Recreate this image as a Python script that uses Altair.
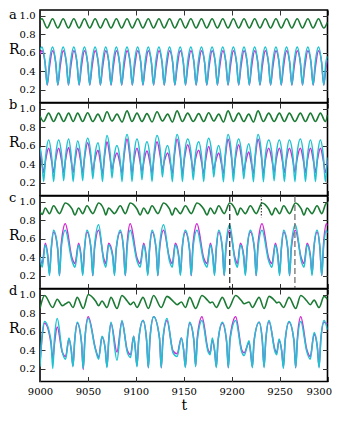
import altair as alt
import pandas as pd

FONT = "DejaVu Serif"
CYAN = "#1fc2d0"
MAGENTA = "#d12cd1"
GREEN = "#1b7a34"

x_ticks = [9000, 9050, 9100, 9150, 9200, 9250, 9300]
y_ticks = [0.2, 0.4, 0.6, 0.8, 1.0]
panel_letters = ["a", "b", "c", "d"]

# ================= panel a =================
# cyan / magenta: peak, knee, trough (cusp), knee ...
tA = [9000.0, 9002.0,
      9005.3, 9007.5, 9009.7, 9013.1,
      9016.4, 9018.6, 9020.8, 9024.2,
      9027.5, 9029.7, 9031.9, 9035.3,
      9038.6, 9040.8, 9043.0, 9046.4,
      9049.7, 9051.9, 9054.1, 9057.5,
      9060.8, 9063.0, 9065.2, 9068.6,
      9071.9, 9074.1, 9076.3, 9079.7,
      9083.0, 9085.2, 9087.4, 9090.8,
      9094.1, 9096.3, 9098.5, 9101.9,
      9105.2, 9107.4, 9109.6, 9113.0,
      9116.3, 9118.5, 9120.7, 9124.1,
      9127.4, 9129.6, 9131.8, 9135.2,
      9138.5, 9140.7, 9142.9, 9146.3,
      9149.6, 9151.8, 9154.0, 9157.4,
      9160.7, 9162.9, 9165.1, 9168.5,
      9171.8, 9174.0, 9176.2, 9179.6,
      9182.9, 9185.1, 9187.3, 9190.7,
      9194.0, 9196.2, 9198.4, 9201.8,
      9205.1, 9207.3, 9209.5, 9212.9,
      9216.2, 9218.4, 9220.6, 9224.0,
      9227.3, 9229.5, 9231.7, 9235.1,
      9238.4, 9240.6, 9242.8, 9246.2,
      9249.5, 9251.7, 9253.9, 9257.3,
      9260.6, 9262.8, 9265.0, 9268.4,
      9271.7, 9273.9, 9276.1, 9279.5,
      9282.8, 9285.0, 9287.2, 9290.6,
      9293.9, 9296.1, 9298.3, 9300.0]
cyanA = [0.63, 0.66,
         0.49, 0.25, 0.49, 0.66, 0.49, 0.25, 0.49, 0.66,
         0.49, 0.25, 0.49, 0.66, 0.49, 0.25, 0.49, 0.66,
         0.49, 0.25, 0.49, 0.66, 0.49, 0.25, 0.49, 0.66,
         0.49, 0.25, 0.49, 0.66, 0.49, 0.25, 0.49, 0.66,
         0.49, 0.25, 0.49, 0.66, 0.49, 0.25, 0.49, 0.66,
         0.49, 0.25, 0.49, 0.66, 0.49, 0.25, 0.49, 0.66,
         0.49, 0.25, 0.49, 0.66, 0.49, 0.25, 0.49, 0.66,
         0.49, 0.25, 0.49, 0.66, 0.49, 0.25, 0.49, 0.66,
         0.49, 0.25, 0.49, 0.66, 0.49, 0.25, 0.49, 0.66,
         0.49, 0.25, 0.49, 0.66, 0.49, 0.25, 0.49, 0.66,
         0.49, 0.25, 0.49, 0.66, 0.49, 0.25, 0.49, 0.66,
         0.49, 0.25, 0.49, 0.66, 0.49, 0.25, 0.49, 0.66,
         0.49, 0.25, 0.49, 0.66, 0.49, 0.25, 0.49, 0.66,
         0.49, 0.25, 0.49, 0.56]
magentaA = [0.58, 0.62,
            0.49, 0.25, 0.43, 0.62, 0.49, 0.25, 0.43, 0.62,
            0.49, 0.25, 0.43, 0.62, 0.49, 0.25, 0.43, 0.62,
            0.49, 0.25, 0.43, 0.62, 0.49, 0.25, 0.43, 0.62,
            0.49, 0.25, 0.43, 0.62, 0.49, 0.25, 0.43, 0.62,
            0.49, 0.25, 0.43, 0.62, 0.49, 0.25, 0.43, 0.62,
            0.49, 0.25, 0.43, 0.62, 0.49, 0.25, 0.43, 0.62,
            0.49, 0.25, 0.43, 0.62, 0.49, 0.25, 0.43, 0.62,
            0.49, 0.25, 0.43, 0.62, 0.49, 0.25, 0.43, 0.62,
            0.49, 0.25, 0.43, 0.62, 0.49, 0.25, 0.43, 0.62,
            0.49, 0.25, 0.43, 0.62, 0.49, 0.25, 0.43, 0.62,
            0.49, 0.25, 0.43, 0.62, 0.49, 0.25, 0.43, 0.62,
            0.49, 0.25, 0.43, 0.62, 0.49, 0.25, 0.43, 0.62,
            0.49, 0.25, 0.43, 0.62, 0.49, 0.25, 0.43, 0.62,
            0.49, 0.25, 0.43, 0.52]
# green: peak / trough times
tA_g = [9000.0, 9002.0, 9007.5, 9013.1, 9018.6, 9024.2, 9029.7, 9035.3, 9040.8, 9046.4,
        9051.9, 9057.5, 9063.0, 9068.6, 9074.1, 9079.7, 9085.2, 9090.8, 9096.3, 9101.9,
        9107.4, 9113.0, 9118.5, 9124.1, 9129.6, 9135.2, 9140.7, 9146.3, 9151.8, 9157.4,
        9162.9, 9168.5, 9174.0, 9179.6, 9185.1, 9190.7, 9196.2, 9201.8, 9207.3, 9212.9,
        9218.4, 9224.0, 9229.5, 9235.1, 9240.6, 9246.2, 9251.7, 9257.3, 9262.8, 9268.4,
        9273.9, 9279.5, 9285.0, 9290.6, 9296.1, 9300.0]
greenA = [0.95, 0.965, 0.865, 0.965, 0.865, 0.965, 0.865, 0.965, 0.865, 0.965,
          0.865, 0.965, 0.865, 0.965, 0.865, 0.965, 0.865, 0.965, 0.865, 0.965,
          0.865, 0.965, 0.865, 0.965, 0.865, 0.965, 0.865, 0.965, 0.865, 0.965,
          0.865, 0.965, 0.865, 0.965, 0.865, 0.965, 0.865, 0.965, 0.865, 0.965,
          0.865, 0.965, 0.865, 0.965, 0.865, 0.965, 0.865, 0.965, 0.865, 0.965,
          0.865, 0.965, 0.865, 0.965, 0.865, 0.93]

# ================= panel b =================
tB = [9000.0,
      9001.8, 9003.8, 9005.8, 9009.0,
      9012.2, 9014.2, 9016.2, 9019.4,
      9022.7, 9024.7, 9026.7, 9029.9,
      9032.6, 9034.6, 9036.6, 9039.3,
      9042.5, 9044.5, 9046.5, 9049.7,
      9053.1, 9055.1, 9057.1, 9060.5,
      9063.2, 9065.2, 9067.2, 9069.9,
      9073.1, 9075.1, 9077.1, 9080.3,
      9083.6, 9085.6, 9087.6, 9090.8,
      9094.0, 9096.0, 9098.0, 9101.2,
      9104.4, 9106.4, 9108.4, 9111.6,
      9114.9, 9116.9, 9118.9, 9122.1,
      9125.7, 9127.7, 9129.7, 9133.2,
      9136.1, 9138.1, 9140.1, 9143.0,
      9146.6, 9148.6, 9150.6, 9154.1,
      9157.9, 9159.9, 9161.9, 9165.6,
      9168.8, 9170.8, 9172.8, 9176.0,
      9179.3, 9181.3, 9183.3, 9186.5,
      9189.4, 9191.4, 9193.4, 9196.2,
      9199.8, 9201.8, 9203.8, 9207.3,
      9210.6, 9212.6, 9214.6, 9217.8,
      9220.7, 9222.7, 9224.7, 9227.5,
      9231.1, 9233.1, 9235.1, 9238.7,
      9242.3, 9244.3, 9246.3, 9249.8,
      9253.0, 9255.0, 9257.0, 9260.2,
      9264.0, 9266.0, 9268.0, 9271.7,
      9275.0, 9277.0, 9279.0, 9282.2,
      9285.4, 9287.4, 9289.4, 9292.6,
      9295.8, 9297.8, 9300.0]
cyanB = [0.58,
         0.47, 0.21, 0.47, 0.66,
         0.47, 0.21, 0.47, 0.66,
         0.48, 0.22, 0.48, 0.67,
         0.48, 0.21, 0.47, 0.65,
         0.47, 0.22, 0.49, 0.68,
         0.50, 0.24, 0.47, 0.63,
         0.46, 0.21, 0.50, 0.71,
         0.52, 0.25, 0.46, 0.60,
         0.44, 0.21, 0.51, 0.72,
         0.51, 0.21, 0.48, 0.67,
         0.49, 0.23, 0.47, 0.64,
         0.46, 0.21, 0.50, 0.71,
         0.53, 0.26, 0.46, 0.60,
         0.44, 0.21, 0.51, 0.72,
         0.51, 0.21, 0.48, 0.67,
         0.49, 0.23, 0.47, 0.64,
         0.46, 0.21, 0.49, 0.68,
         0.51, 0.26, 0.46, 0.60,
         0.44, 0.21, 0.51, 0.72,
         0.51, 0.21, 0.48, 0.67,
         0.49, 0.24, 0.46, 0.62,
         0.45, 0.21, 0.51, 0.72,
         0.51, 0.21, 0.48, 0.66,
         0.48, 0.22, 0.48, 0.66,
         0.47, 0.21, 0.47, 0.66,
         0.47, 0.21, 0.48, 0.67,
         0.48, 0.21, 0.47, 0.66,
         0.47, 0.21, 0.47, 0.66,
         0.47, 0.21, 0.47]
magentaB = [0.55,
            0.43, 0.31, 0.44, 0.57,
            0.43, 0.31, 0.44, 0.57,
            0.43, 0.31, 0.45, 0.58,
            0.43, 0.31, 0.44, 0.57,
            0.43, 0.31, 0.47, 0.63,
            0.46, 0.32, 0.44, 0.55,
            0.41, 0.30, 0.47, 0.64,
            0.47, 0.34, 0.43, 0.52,
            0.40, 0.30, 0.48, 0.67,
            0.47, 0.30, 0.44, 0.57,
            0.43, 0.32, 0.43, 0.54,
            0.41, 0.30, 0.47, 0.64,
            0.47, 0.34, 0.43, 0.52,
            0.40, 0.30, 0.48, 0.67,
            0.47, 0.30, 0.45, 0.61,
            0.45, 0.32, 0.44, 0.55,
            0.41, 0.30, 0.44, 0.59,
            0.45, 0.34, 0.43, 0.52,
            0.40, 0.30, 0.48, 0.67,
            0.47, 0.30, 0.45, 0.61,
            0.45, 0.32, 0.42, 0.53,
            0.40, 0.30, 0.48, 0.67,
            0.47, 0.30, 0.44, 0.57,
            0.43, 0.31, 0.44, 0.57,
            0.43, 0.31, 0.44, 0.57,
            0.43, 0.31, 0.44, 0.57,
            0.43, 0.31, 0.44, 0.57,
            0.43, 0.31, 0.44, 0.57,
            0.43, 0.31, 0.44]
tB_g = [9000.0, 9003.8, 9009.0, 9014.2, 9019.4, 9024.7, 9029.9, 9034.6, 9039.3, 9044.5,
        9049.7, 9055.1, 9060.5, 9065.2, 9069.9, 9075.1, 9080.3, 9085.6, 9090.8, 9096.0,
        9101.2, 9106.4, 9111.6, 9116.9, 9122.1, 9127.7, 9133.2, 9138.1, 9143.0, 9148.6,
        9154.1, 9159.9, 9165.6, 9170.8, 9176.0, 9181.3, 9186.5, 9191.4, 9196.2, 9201.8,
        9207.3, 9212.6, 9217.8, 9222.7, 9227.5, 9233.1, 9238.7, 9244.3, 9249.8, 9255.0,
        9260.2, 9266.0, 9271.7, 9277.0, 9282.2, 9287.4, 9292.6, 9297.8, 9300.0]
greenB = [0.92, 0.86, 0.95, 0.86, 0.95, 0.86, 0.95, 0.86, 0.95, 0.86,
          0.955, 0.86, 0.94, 0.86, 0.965, 0.865, 0.94, 0.855, 0.975, 0.86,
          0.95, 0.86, 0.945, 0.855, 0.965, 0.865, 0.94, 0.855, 0.975, 0.86,
          0.95, 0.86, 0.945, 0.86, 0.955, 0.865, 0.94, 0.855, 0.975, 0.86,
          0.95, 0.86, 0.94, 0.855, 0.975, 0.86, 0.95, 0.86, 0.95, 0.86,
          0.95, 0.86, 0.95, 0.86, 0.95, 0.86, 0.95, 0.86, 0.93]

# ================= panel c =================
# rows: [shoulder, dip, small peak] then [knee, trough, knee, peak, knee, trough, knee, big peak]
tC = [9000.0, 9002.3, 9005.5,
      9008.1, 9009.9, 9011.7, 9014.2, 9018.5, 9020.3, 9022.1, 9026.4,
      9033.4, 9036.5, 9040.3,
      9042.8, 9044.6, 9046.4, 9049.0, 9053.3, 9055.1, 9056.9, 9061.2,
      9066.4, 9068.7, 9071.6,
      9075.9, 9077.7, 9079.5, 9083.8, 9087.2, 9089.0, 9090.8, 9094.2,
      9101.2, 9104.5, 9108.2,
      9110.7, 9112.5, 9114.3, 9116.9, 9121.2, 9123.0, 9124.8, 9129.0,
      9135.1, 9138.0, 9141.2,
      9144.7, 9146.5, 9148.3, 9151.7, 9156.0, 9157.8, 9159.6, 9163.8,
      9170.8, 9174.3, 9177.8,
      9180.3, 9182.1, 9183.9, 9186.5, 9190.4, 9192.2, 9194.0, 9197.9,
      9203.5, 9206.0, 9209.1,
      9212.5, 9214.3, 9216.1, 9219.5, 9223.8, 9225.6, 9227.4, 9231.7,
      9238.6, 9242.0, 9245.6,
      9248.2, 9250.0, 9251.8, 9254.3, 9258.6, 9260.4, 9262.2, 9266.5,
      9272.6, 9275.5, 9278.7,
      9282.1, 9283.9, 9285.7, 9289.1, 9292.2, 9294.0, 9295.8, 9298.9,
      9300.0]
cyanC = [0.40, 0.29, 0.53,
         0.40, 0.20, 0.49, 0.69, 0.49, 0.20, 0.49, 0.69,
         0.36, 0.29, 0.53,
         0.40, 0.20, 0.49, 0.69, 0.49, 0.20, 0.52, 0.75,
         0.36, 0.29, 0.53,
         0.40, 0.20, 0.49, 0.69, 0.49, 0.20, 0.49, 0.69,
         0.36, 0.29, 0.53,
         0.40, 0.20, 0.49, 0.69, 0.49, 0.20, 0.52, 0.75,
         0.36, 0.29, 0.53,
         0.40, 0.20, 0.49, 0.69, 0.49, 0.20, 0.49, 0.69,
         0.36, 0.29, 0.53,
         0.40, 0.20, 0.49, 0.69, 0.49, 0.20, 0.52, 0.75,
         0.36, 0.29, 0.53,
         0.40, 0.20, 0.49, 0.69, 0.49, 0.20, 0.49, 0.69,
         0.36, 0.29, 0.53,
         0.40, 0.20, 0.49, 0.69, 0.49, 0.20, 0.52, 0.75,
         0.36, 0.29, 0.53,
         0.40, 0.20, 0.49, 0.69, 0.49, 0.20, 0.49, 0.69,
         0.66]
magentaC = [0.40, 0.33, 0.55,
            0.42, 0.22, 0.48, 0.67, 0.48, 0.20, 0.53, 0.76,
            0.39, 0.33, 0.55,
            0.42, 0.22, 0.48, 0.67, 0.48, 0.20, 0.49, 0.69,
            0.39, 0.33, 0.55,
            0.42, 0.22, 0.48, 0.67, 0.48, 0.20, 0.53, 0.76,
            0.39, 0.33, 0.55,
            0.42, 0.22, 0.48, 0.67, 0.48, 0.20, 0.49, 0.69,
            0.39, 0.33, 0.55,
            0.42, 0.22, 0.48, 0.67, 0.48, 0.20, 0.53, 0.76,
            0.39, 0.33, 0.55,
            0.42, 0.22, 0.48, 0.67, 0.48, 0.20, 0.49, 0.69,
            0.39, 0.33, 0.55,
            0.42, 0.22, 0.48, 0.67, 0.48, 0.20, 0.53, 0.76,
            0.39, 0.33, 0.55,
            0.42, 0.22, 0.48, 0.67, 0.48, 0.20, 0.49, 0.69,
            0.39, 0.33, 0.55,
            0.42, 0.22, 0.48, 0.67, 0.48, 0.20, 0.53, 0.76,
            0.74]
tC_g = [9000.0, 9002.3, 9005.5,
        9009.9, 9014.2, 9020.3, 9026.4,
        9033.4, 9036.5, 9040.3,
        9044.6, 9049.0, 9055.1, 9061.2,
        9066.4, 9068.7, 9071.6,
        9077.7, 9083.8, 9089.0, 9094.2,
        9101.2, 9104.5, 9108.2,
        9112.5, 9116.9, 9123.0, 9129.0,
        9135.1, 9138.0, 9141.2,
        9146.5, 9151.7, 9157.8, 9163.8,
        9170.8, 9174.3, 9177.8,
        9182.1, 9186.5, 9192.2, 9197.9,
        9203.5, 9206.0, 9209.1,
        9214.3, 9219.5, 9225.6, 9231.7,
        9238.6, 9242.0, 9245.6,
        9250.0, 9254.3, 9260.4, 9266.5,
        9272.6, 9275.5, 9278.7,
        9283.9, 9289.1, 9294.0, 9298.9,
        9300.0]
greenC = [0.89, 0.86, 0.93,
          0.87, 0.955, 0.87, 0.985,
          0.92, 0.855, 0.93,
          0.87, 0.955, 0.87, 0.985,
          0.92, 0.855, 0.93,
          0.87, 0.955, 0.87, 0.985,
          0.92, 0.855, 0.93,
          0.87, 0.955, 0.87, 0.985,
          0.92, 0.855, 0.93,
          0.87, 0.955, 0.87, 0.985,
          0.92, 0.855, 0.93,
          0.87, 0.955, 0.87, 0.985,
          0.92, 0.855, 0.93,
          0.87, 0.955, 0.87, 0.985,
          0.92, 0.855, 0.93,
          0.87, 0.955, 0.87, 0.985,
          0.92, 0.855, 0.93,
          0.87, 0.955, 0.87, 0.985,
          0.97]
# vertical markers in panel c
mark_dashed = [9198.0]
mark_dotted = [9231.0]
mark_gray = [9266.0]

# ================= panel d =================
tD = [9000.0, 9001.8, 9004.8, 9011.5, 9013.3, 9015.1, 9018.0, 9023.2, 9026.7, 9030.2,
      9032.6, 9034.4, 9036.2, 9038.9, 9043.3, 9045.1, 9046.9, 9050.4, 9058.0, 9061.2,
      9064.7, 9068.1, 9069.9, 9071.7, 9074.1, 9080.3, 9085.5, 9091.0, 9094.5, 9097.7,
      9099.4, 9101.2, 9103.0, 9107.5, 9111.2, 9113.0, 9114.8, 9118.6, 9124.7, 9126.5,
      9128.3, 9132.5, 9138.8, 9143.0, 9147.5, 9149.9, 9151.7, 9153.5, 9156.2, 9160.6,
      9162.4, 9164.2, 9169.0, 9175.5, 9177.5, 9179.8, 9182.2, 9184.0, 9185.8, 9190.3,
      9194.7, 9196.5, 9198.3, 9204.2, 9210.5, 9213.0, 9218.1, 9219.8, 9221.6, 9223.4,
      9228.6, 9232.0, 9233.8, 9235.6, 9239.0, 9245.3, 9247.0, 9249.4, 9252.2, 9254.0,
      9255.8, 9259.9, 9265.0, 9266.8, 9268.6, 9272.1, 9278.5, 9282.0, 9286.0, 9289.4,
      9291.2, 9293.0, 9296.4, 9300.0]
cyanD = [0.22, 0.51, 0.71, 0.50, 0.20, 0.52, 0.74, 0.38, 0.30, 0.53,
         0.40, 0.22, 0.50, 0.70, 0.49, 0.20, 0.52, 0.74, 0.40, 0.30,
         0.55, 0.41, 0.21, 0.50, 0.70, 0.29, 0.72, 0.38, 0.32, 0.55,
         0.42, 0.22, 0.51, 0.72, 0.51, 0.21, 0.53, 0.76, 0.53, 0.21,
         0.52, 0.74, 0.37, 0.33, 0.53, 0.40, 0.21, 0.50, 0.70, 0.50,
         0.22, 0.51, 0.72, 0.38, 0.35, 0.53, 0.40, 0.21, 0.50, 0.70,
         0.50, 0.21, 0.51, 0.72, 0.38, 0.34, 0.50, 0.38, 0.21, 0.50,
         0.70, 0.50, 0.21, 0.51, 0.72, 0.38, 0.35, 0.52, 0.39, 0.20,
         0.50, 0.71, 0.50, 0.21, 0.50, 0.71, 0.38, 0.30, 0.59, 0.43,
         0.21, 0.51, 0.72, 0.62]
magentaD = [0.26, 0.50, 0.69, 0.47, 0.30, 0.47, 0.65, 0.38, 0.33, 0.52,
            0.40, 0.23, 0.50, 0.69, 0.48, 0.19, 0.53, 0.76, 0.41, 0.32,
            0.54, 0.41, 0.22, 0.50, 0.69, 0.38, 0.71, 0.40, 0.35, 0.55,
            0.42, 0.23, 0.51, 0.72, 0.51, 0.21, 0.53, 0.76, 0.53, 0.21,
            0.51, 0.72, 0.39, 0.36, 0.53, 0.40, 0.22, 0.49, 0.69, 0.50,
            0.23, 0.54, 0.76, 0.40, 0.37, 0.51, 0.39, 0.22, 0.50, 0.69,
            0.49, 0.21, 0.53, 0.76, 0.40, 0.37, 0.48, 0.37, 0.22, 0.50,
            0.70, 0.50, 0.22, 0.51, 0.71, 0.40, 0.37, 0.50, 0.39, 0.22,
            0.50, 0.70, 0.50, 0.21, 0.53, 0.76, 0.40, 0.33, 0.57, 0.43,
            0.22, 0.51, 0.70, 0.68]
tD_g = [9000.0, 9004.8, 9013.3, 9018.0, 9023.2, 9026.7, 9030.2, 9034.4, 9038.9, 9045.1,
        9050.4, 9058.0, 9061.2, 9064.7, 9069.9, 9074.1, 9080.3, 9085.5, 9091.0, 9094.5,
        9097.7, 9101.2, 9107.5, 9113.0, 9118.6, 9126.5, 9132.5, 9138.8, 9143.0, 9147.5,
        9151.7, 9156.2, 9162.4, 9169.0, 9175.5, 9177.5, 9179.8, 9184.0, 9190.3, 9196.5,
        9204.2, 9210.5, 9213.0, 9218.1, 9221.6, 9228.6, 9233.8, 9239.0, 9245.3, 9247.0,
        9249.4, 9254.0, 9259.9, 9266.8, 9272.1, 9278.5, 9282.0, 9286.0, 9291.2, 9296.4,
        9300.0]
greenD = [0.85, 0.99, 0.86, 0.95, 0.88, 0.90, 0.92, 0.86, 0.97, 0.85,
          1.00, 0.93, 0.88, 0.93, 0.86, 0.97, 0.85, 0.99, 0.93, 0.89,
          0.92, 0.86, 0.97, 0.85, 0.99, 0.86, 0.98, 0.93, 0.89, 0.92,
          0.86, 0.97, 0.85, 0.99, 0.93, 0.91, 0.92, 0.86, 0.97, 0.85,
          0.99, 0.93, 0.90, 0.92, 0.86, 0.97, 0.85, 0.98, 0.93, 0.91,
          0.92, 0.86, 0.97, 0.85, 0.99, 0.93, 0.89, 0.94, 0.86, 0.98,
          0.95]

W, H = 287.5, 92.5
XS = alt.Scale(domain=[9000, 9300], nice=False, zero=False)
YS = alt.Scale(domain=[0.06, 1.06], nice=False, zero=False)
TICK_COLOR = "#333333"
LEFT = -31


def ax_bottom(show):
    kw = dict(orient="bottom", values=x_ticks, tickSize=5, offset=-5, domain=False,
              grid=False, labels=show, tickColor=TICK_COLOR, tickWidth=1,
              labelFont=FONT, labelFontSize=10, labelColor="black", labelPadding=5,
              labelFlush=False, labelOverlap=False, format="d",
              labelAlign={"expr": "datum.value == 9300 ? 'right' : 'center'"},
              labelOffset={"expr": "datum.value == 9300 ? 4 : 0"})
    if show:
        kw.update(title="t", titleFont=FONT, titleFontSize=14, titleFontWeight="normal",
                  titleColor="black", titlePadding=2)
    else:
        kw.update(title=None)
    return alt.Axis(**kw)


ax_top = alt.Axis(orient="top", values=x_ticks, tickSize=5, offset=-5, domain=False,
                  grid=False, labels=False, tickColor=TICK_COLOR, tickWidth=1, title=None)
ax_left = alt.Axis(orient="left", values=y_ticks, tickSize=5, offset=-5, domain=False,
                   grid=False, tickColor=TICK_COLOR, tickWidth=1, format=".1f",
                   labelFont=FONT, labelFontSize=10, labelColor="black", labelPadding=5,
                   labelFlush=False, labelOverlap=False, title=None)
ax_right = alt.Axis(orient="right", values=y_ticks, tickSize=5, offset=-5, domain=False,
                    grid=False, labels=False, tickColor=TICK_COLOR, tickWidth=1, title=None)


def series(t, v, color, width, xaxis=None, yaxis=None):
    df = pd.DataFrame({"t": t, "R": v})
    return alt.Chart(df).mark_line(color=color, strokeWidth=width,
                                   interpolate="monotone", clip=True).encode(
        x=alt.X("t:Q", scale=XS, axis=xaxis),
        y=alt.Y("R:Q", scale=YS, axis=yaxis),
    )


def panel(idx, t, c, m, tg, g, show_x=False, extra=None):
    layers = [
        series(tg, g, GREEN, 1.6, ax_bottom(show_x), ax_left),
        series(t, m, MAGENTA, 1.5, ax_top, ax_right),
        series(t, c, CYAN, 1.5),
    ]
    if extra:
        layers += extra
    letter_y = 5 if idx == 0 else 2
    letter = alt.Chart(pd.DataFrame({"l": [panel_letters[idx]]})).mark_text(
        align="left", baseline="middle", font=FONT, fontSize=13, color="black"
    ).encode(text="l:N", x=alt.value(LEFT), y=alt.value(letter_y))
    rlab = alt.Chart(pd.DataFrame({"l": ["R"]})).mark_text(
        align="left", baseline="middle", font=FONT, fontSize=14, color="black"
    ).encode(text="l:N", x=alt.value(LEFT), y=alt.value(40))
    layers += [letter, rlab]
    return alt.layer(*layers).resolve_axis(x="independent", y="independent").properties(
        width=W, height=H)


def vrule(times, top, bottom, color, dash):
    df = pd.DataFrame({"t": times, "top": [top] * len(times), "bot": [bottom] * len(times)})
    return alt.Chart(df).mark_rule(color=color, strokeWidth=1.2, strokeDash=dash).encode(
        x=alt.X("t:Q", scale=XS, axis=None),
        y=alt.Y("top:Q", scale=YS, axis=None),
        y2="bot:Q",
    )


rules_c = [
    vrule(mark_dashed, 1.06, 0.06, "#222222", [6, 3]),
    vrule(mark_dotted, 1.06, 0.83, "#444444", [1.5, 1.5]),
    vrule(mark_gray, 1.06, 0.06, "#666666", [6, 3]),
]

pa = panel(0, tA, cyanA, magentaA, tA_g, greenA)
pb = panel(1, tB, cyanB, magentaB, tB_g, greenB)
pc = panel(2, tC, cyanC, magentaC, tC_g, greenC, extra=rules_c)
pd_ = panel(3, tD, cyanD, magentaD, tD_g, greenD, show_x=True)

chart = alt.vconcat(pa, pb, pc, pd_, spacing=0, bounds="flush").properties(
    padding={"left": 0, "top": 0, "right": 0, "bottom": 0}
).configure_view(stroke="black", strokeWidth=1.6)

chart.save("out.html", embed_options={"renderer": "svg", "actions": False})
